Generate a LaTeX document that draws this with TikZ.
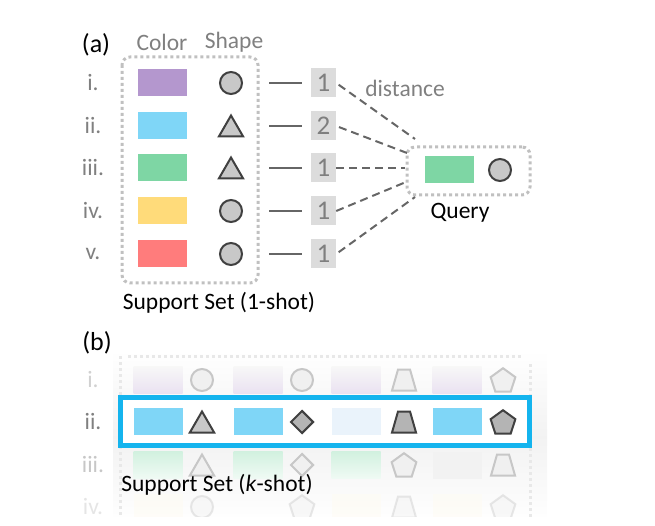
\documentclass[tikz,border=0pt]{standalone}
\usepackage{fontspec}
\setmainfont{Carlito}
\usetikzlibrary{shapes.geometric}

\definecolor{labelgray}{HTML}{808080}
\definecolor{framegray}{HTML}{C0C0C0}
\definecolor{shapefill}{HTML}{C8C8C8}
\definecolor{shapedark}{HTML}{B4B4B4}
\definecolor{shapeline}{HTML}{404040}
\definecolor{numfill}{HTML}{DCDCDC}
\definecolor{numtext}{HTML}{7F7F7F}
\definecolor{linkgray}{HTML}{666666}
\definecolor{cpurple}{HTML}{B497CE}
\definecolor{cblue}{HTML}{7FD6F7}
\definecolor{cgreen}{HTML}{7ED6A4}
\definecolor{cyellow}{HTML}{FFDB7A}
\definecolor{cred}{HTML}{FF7C7C}
\definecolor{cpale}{HTML}{EAF3FB}
\definecolor{hilite}{HTML}{14B4EE}

\tikzset{
  txt/.style={inner sep=0pt, font=\fontsize{23.5}{25}\selectfont},
  graytxt/.style={txt, text=labelgray},
  swatch/.style={minimum width=49pt, minimum height=27pt, inner sep=0pt},
  shp/.style={draw=shapeline, fill=shapefill, line width=2pt, inner sep=0pt},
  circ/.style={shp, circle, minimum size=22pt},
  tri/.style={shp, regular polygon, regular polygon sides=3, minimum size=28pt, yshift=-3.5pt},
  dia/.style={shp, diamond, minimum width=23pt, minimum height=23pt},
  pent/.style={shp, regular polygon, regular polygon sides=5, minimum size=26pt, yshift=-1.2pt},
  trapz/.pic={\path[pic actions] (-12,10.5) -- (12,10.5) -- (6,-10.5) -- (-6,-10.5) -- cycle;},
  numbox/.style={fill=numfill, minimum width=25pt, minimum height=29pt, inner sep=0pt,
                 text=numtext, font=\fontsize{27}{28}\selectfont},
  dotframe/.style={draw=framegray, line width=3pt, dash pattern=on 3pt off 3pt, rounded corners=8pt},
  link/.style={draw=linkgray, line width=2pt},
  dlink/.style={draw=linkgray, line width=2pt, dash pattern=on 8pt off 5pt},
  ghost/.style={draw=black!22, fill=black!6, line width=2pt, inner sep=0pt},
}

\begin{document}
\begin{tikzpicture}[x=1pt,y=-1pt]
\useasboundingbox (0,0) rectangle (655,526);

% ---------------- (a) one-shot support set ----------------
\node[txt, font=\fontsize{26}{28}\selectfont] (la) at (96,45) {(a)};
\node[graytxt] (hcolor) at (162,42) {Color};
\node[graytxt] (hshape) at (234,42) {Shape};

\draw[dotframe] (122,57) rectangle (258,283);

\foreach \r/\lab/\y in {1/i./83, 2/ii./126, 3/iii./168, 4/iv./211, 5/v./254}{
  \node[graytxt] (r\r) at (93,\y) {\lab};
}

\node[swatch, fill=cpurple] (c1) at (162.5,83) {};
\node[swatch, fill=cblue]   (c2) at (162.5,126) {};
\node[swatch, fill=cgreen]  (c3) at (162.5,168) {};
\node[swatch, fill=cyellow] (c4) at (162.5,211) {};
\node[swatch, fill=cred]    (c5) at (162.5,254) {};

\node[circ] (s1) at (231,83) {};
\node[tri]  (s2) at (231,126) {};
\node[tri]  (s3) at (231,168) {};
\node[circ] (s4) at (231,211) {};
\node[circ] (s5) at (231,254) {};

\node[numbox] (n1) at (323.5,83) {1};
\node[numbox] (n2) at (323.5,126) {2};
\node[numbox] (n3) at (323.5,168) {1};
\node[numbox] (n4) at (323.5,211) {1};
\node[numbox] (n5) at (323.5,254) {1};

\foreach \r/\y in {1/83, 2/126, 3/168, 4/211, 5/254}{
  \coordinate (sc\r) at (231,\y);
  \draw[link, shorten <=38pt, shorten >=9pt] (sc\r) -- (n\r.west);
}

\node[graytxt] (ldist) at (405,88) {distance};
\node[txt] (lsup1) at (219,303) {Support Set (1-shot)};

% query
\node[draw=framegray, line width=3pt, dash pattern=on 3pt off 3pt, rounded corners=8pt,
      minimum width=123pt, minimum height=48pt, inner sep=0pt] (q) at (468.5,171) {};
\node[swatch, fill=cgreen] (qc) at (449.5,170) {};
\node[circ] (qs) at (500,170) {};
\node[txt] (lq) at (460,213) {Query};

\coordinate (d1) at (415,139);
\coordinate (d2) at (407,153);
\coordinate (d3) at (405,168);
\coordinate (d4) at (406,182);
\coordinate (d5) at (415,197);
\draw[dlink, shorten <=3pt] (n1.east) -- (d1);
\draw[dlink, shorten <=3pt] (n2.east) -- (d2);
\draw[dlink] (n3.east) -- (d3);
\draw[dlink] (n4.east) -- (d4);
\draw[dlink, shorten <=3pt] (n5.east) -- (d5);

% ---------------- (b) k-shot support set ----------------
\node[txt, font=\fontsize{26}{28}\selectfont] (lb) at (97,343) {(b)};

% soft backdrop behind the faded rows
\fill[top color=white, bottom color=white, middle color=black!5] (113,350) rectangle (547,524);
\draw[dotframe, draw=black!9] (120,356) -- (120,526);
\draw[dotframe, draw=black!9] (128,356) -- (522,356);
\draw[dotframe, draw=black!9] (530,364) -- (530,526);

% faded row i
\node[graytxt, text=black!18] (b1) at (93,380) {i.};
\foreach \k/\x in {1/158, 2/258, 3/356, 4/457}{
  \node[swatch, top color=black!3!white, bottom color=cpurple!28] (p1\k) at (\x,380) {};
}
\node[ghost, circle, minimum size=22pt] (g11) at (202,380) {};
\node[ghost, circle, minimum size=22pt] (g12) at (302,380) {};
\pic[ghost] (g13) at (404,380) {trapz};
\node[ghost, regular polygon, regular polygon sides=5, minimum size=26pt,
      yshift=-1.2pt] (g14) at (503,380) {};

% faded row iii
\node[graytxt, text=black!22] (b3) at (93,465) {iii.};
\node[swatch, top color=cgreen!35, bottom color=cgreen!12] (p31) at (158,465) {};
\node[swatch, top color=cgreen!35, bottom color=cgreen!12] (p32) at (258,465) {};
\node[swatch, top color=cgreen!35, bottom color=cgreen!12] (p33) at (356,465) {};
\node[swatch, fill=black!5] (p34) at (457,465) {};
\node[ghost, regular polygon, regular polygon sides=3, minimum size=28pt,
      yshift=-3.5pt] (g31) at (202,465) {};
\node[ghost, diamond, minimum width=23pt, minimum height=23pt] (g32) at (302,465) {};
\node[ghost, regular polygon, regular polygon sides=5, minimum size=26pt,
      yshift=-1.2pt] (g33) at (404,465) {};
\pic[ghost] (g34) at (503,465) {trapz};

% faded row iv
\begin{scope}[opacity=0.4]
\node[graytxt, text=black!25] (b4) at (93,507) {iv.};
\node[swatch, fill=cyellow!12] (p41) at (158,507) {};
\node[swatch, fill=cyellow!12] (p43) at (356,507) {};
\node[swatch, fill=cyellow!12] (p44) at (457,507) {};
\node[ghost, circle, minimum size=22pt] (g41) at (202,507) {};
\node[ghost, regular polygon, regular polygon sides=5, minimum size=26pt,
      yshift=-1.2pt] (g42) at (302,507) {};
\pic[ghost] (g43) at (404,507) {trapz};
\node[ghost, regular polygon, regular polygon sides=5, minimum size=26pt,
      yshift=-1.2pt] (g44) at (503,507) {};
\end{scope}
% the strip below the last row fades into the page
\fill[white] (60,517) rectangle (600,526);

% highlighted row ii
\node[draw=hilite, fill=white, line width=5pt, minimum width=409pt, minimum height=48pt,
      inner sep=0pt] (hl) at (325,421.5) {};
\node[graytxt] (b2) at (93,422) {ii.};
\node[swatch, fill=cblue] (k1) at (158,421) {};
\node[swatch, fill=cblue] (k2) at (258,421) {};
\node[swatch, fill=cpale] (k3) at (356,421) {};
\node[swatch, fill=cblue] (k4) at (457,421) {};
\node[tri]  (t1) at (202,422) {};
\node[dia, fill=shapedark] (t2) at (302,422) {};
\pic[shp, fill=shapedark] (t3) at (404,422) {trapz};
\node[pent, fill=shapedark] (t4) at (503,422) {};

\node[txt] (lsupk) at (217,485) {Support Set (\textit{k}-shot)};

\end{tikzpicture}
\end{document}
